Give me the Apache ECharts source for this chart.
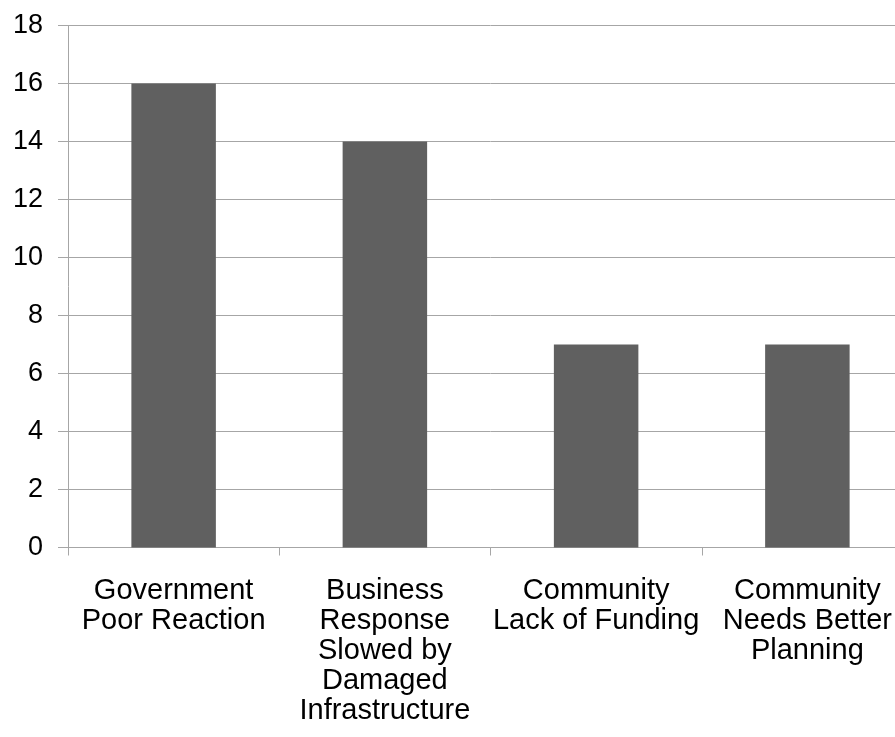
<!DOCTYPE html>
<html>
<head>
<meta charset="utf-8">
<script src="https://cdn.jsdelivr.net/npm/echarts@6/dist/echarts.min.js"></script>
<style>
  html, body { margin: 0; padding: 0; background: #ffffff; overflow: hidden; width: 895px; height: 737px; }
  /* the plot runs a little past the right edge of the window */
  #chart { width: 913px; height: 737px; }
</style>
</head>
<body>
<div id="chart"></div>
<script>
// Categories (line breaks as shown under the axis)
const categories = [
  'Government\nPoor Reaction',
  'Business\nResponse\nSlowed by\nDamaged\nInfrastructure',
  'Community\nLack of Funding',
  'Community\nNeeds Better\nPlanning'
];
const counts = [16, 14, 7, 7];
const yMin = 0;
const yMax = 18;
const yStep = 2;

const chart = echarts.init(document.getElementById('chart'));
const gridColor = '#a6a6a6';
const font = '"Liberation Sans", Arial, sans-serif';

chart.setOption({
  animation: false,
  backgroundColor: '#ffffff',
  grid: { left: 68, top: 25.5, right: 0, bottom: 189.5, containLabel: false },
  xAxis: {
    type: 'category',
    data: categories,
    axisLine: { show: true, lineStyle: { color: gridColor, width: 1 } },
    axisTick: { show: true, alignWithLabel: false, length: 8, lineStyle: { color: gridColor } },
    axisLabel: {
      color: '#000000', fontFamily: font, fontSize: 29, lineHeight: 30,
      margin: 28, interval: 0, align: 'center'
    },
    splitLine: { show: false }
  },
  yAxis: {
    type: 'value',
    min: yMin, max: yMax, interval: yStep,
    axisLine: { show: true, lineStyle: { color: gridColor, width: 1 } },
    axisTick: { show: true, length: 10, lineStyle: { color: gridColor } },
    axisLabel: { color: '#000000', fontFamily: font, fontSize: 27, margin: 25 },
    splitLine: { show: true, lineStyle: { color: gridColor, width: 1 } }
  },
  series: [{
    type: 'bar',
    data: counts,
    barWidth: '40%',
    itemStyle: { color: '#606060' }
  }]
});
</script>
</body>
</html>
